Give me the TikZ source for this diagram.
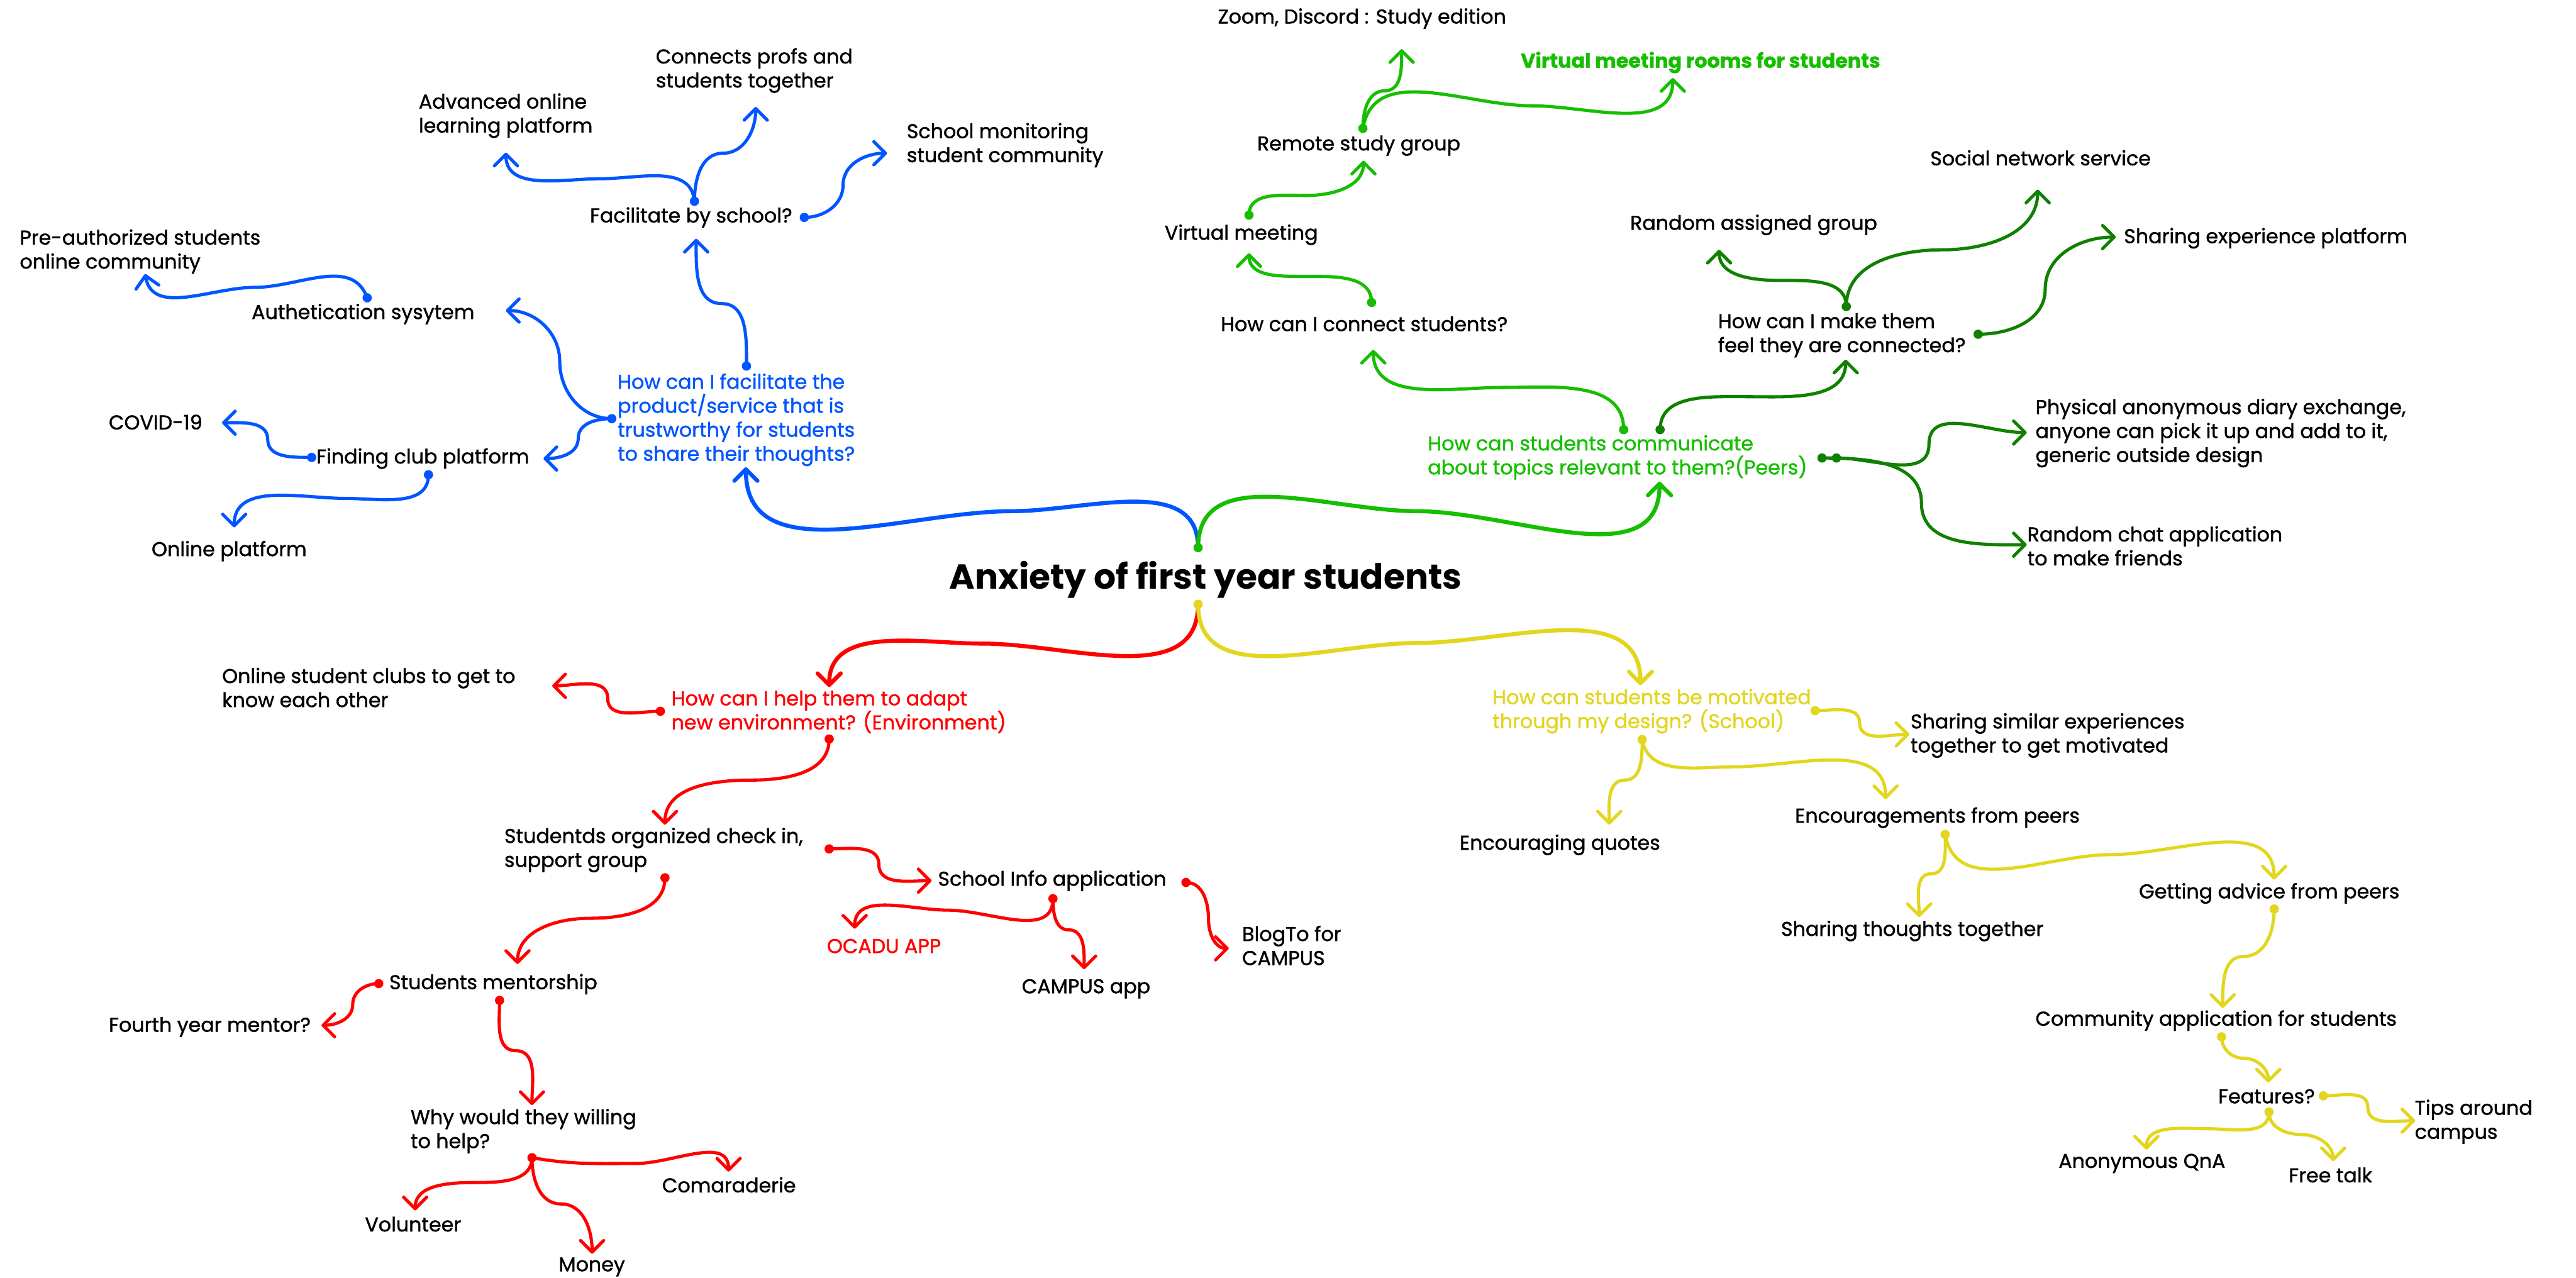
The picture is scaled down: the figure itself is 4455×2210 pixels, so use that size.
\documentclass[tikz,border=0pt]{standalone}
\usepackage{fontspec}
\setmainfont{Poppins}
\newfontfamily\medfam{Poppins}[FakeBold=1.2]
\usetikzlibrary{arrows.meta}

\definecolor{mblue}{RGB}{0,85,255}
\definecolor{mgreen}{RGB}{22,190,0}
\definecolor{dgreen}{RGB}{16,128,0}
\definecolor{mred}{RGB}{255,0,0}
\definecolor{myellow}{RGB}{226,214,30}

\newcommand\bodyfont{\medfam\fontsize{34.5}{41.5}\selectfont}
\newcommand\headfont{\fontsize{60}{64}\selectfont\bfseries}

\tikzset{
  lbl/.style={font=\bodyfont, inner sep=0pt, anchor=west, align=left, text=black},
  link/.style={line width=5.5pt, line cap=round, line join=round,
               -{Straight Barb[length=20pt,width=40pt,round]}},
  mainlink/.style={link, line width=7pt},
}

\begin{document}
\begin{tikzpicture}[x=1pt, y=-1pt]
\fill[white] (0,0) rectangle (4455,2210);
\useasboundingbox (0,0) rectangle (4455,2210);

% ---------- centre ----------
\node[lbl, font=\headfont] (root) at (1642,1003) {Anxiety of first year students};
\coordinate (rtop) at (2072,947);
\coordinate (rbot) at (2072,1045);

% ---------- blue branch ----------
\node[lbl, text=mblue] (qb) at (1068,726) {How can I facilitate the\\product/service that is\\trustworthy for students\\to share their thoughts?};
\node[lbl] (fac) at (1020,376) {Facilitate by school?};
\node[lbl] (adv) at (724,200) {Advanced online\\learning platform};
\node[lbl] (con) at (1134,122) {Connects profs and\\students together};
\node[lbl] (mon) at (1568,251) {School monitoring\\student community};
\node[lbl] (pre) at (34,435) {Pre-authorized students\\online community};
\node[lbl] (auth) at (435,543) {Authetication sysytem};
\node[lbl] (find) at (547,793) {Finding club platform};
\node[lbl] (covid) at (188,730) {COVID-19};
\node[lbl] (onl) at (262,953) {Online platform};

\coordinate (qbT) at (1291,633);  \coordinate (qbL) at (1058,724);
\coordinate (qbIn) at (1290,808);
\coordinate (facT) at (1201,348); \coordinate (facR) at (1391,376);
\coordinate (facIn) at (1204,413);
\coordinate (advIn) at (875,264);
\coordinate (conIn) at (1307,185);
\coordinate (monIn) at (1534,265);
\coordinate (authT) at (635,515); \coordinate (authIn) at (875,537);
\coordinate (preIn) at (251,474);
\coordinate (findL) at (539,791); \coordinate (findB) at (741,821);
\coordinate (findIn) at (940,793);
\coordinate (covIn) at (384,731);
\coordinate (onlIn) at (405,912);

\begin{scope}[mblue]
\draw[mainlink] (rtop) to[out=90,in=0] (1750,884) to[out=180,in=-90] (qbIn);
\draw[link] (qbT) to[out=90,in=0] (1248,525) to[out=180,in=-90] (facIn);
\draw[link] (qbL) to[out=180,in=-90] (968,625) to[out=90,in=0] (authIn);
\draw[link] (qbL) to[out=180,in=90] (1000,758) to[out=-90,in=0] (findIn);
\draw[link] (authT) to[out=110,in=0] (440,497) to[out=180,in=-80] (preIn);
\draw[link] (findL) to[out=180,in=-90] (463,760) to[out=90,in=0] (covIn);
\draw[link] (findB) to[out=-90,in=0] (600,862) to[out=180,in=90] (onlIn);
\draw[link] (facT) to[out=95,in=0] (1040,309) to[out=180,in=-90] (advIn);
\draw[link] (facT) to[out=90,in=180] (1250,265) to[out=0,in=-90] (conIn);
\draw[link] (facR) to[out=0,in=-90] (1458,320) to[out=90,in=180] (monIn);
\foreach \p in {qbT,qbL,facT,facR,authT,findL,findB} \fill (\p) circle (8pt);
\end{scope}

% ---------- green branch ----------
\node[lbl, text=mgreen] (qg) at (2469,791) {How can students communicate\\about topics relevant to them?(Peers)};
\node[lbl] (hc) at (2111,560) {How can I connect students?};
\node[lbl] (vm) at (2014,406) {Virtual meeting};
\node[lbl] (rem) at (2174,252) {Remote study group};
\node[lbl] (zoom) at (2106,32) {Zoom, Discord : Study edition};
\node[lbl, text=mgreen, font=\bodyfont\bfseries] (vr) at (2630,108) {Virtual meeting rooms for students};
\node[lbl] (hm) at (2971,580) {How can I make them\\feel they are connected?};
\node[lbl] (ra) at (2819,389) {Random assigned group};
\node[lbl] (soc) at (3338,273) {Social network service};
\node[lbl] (sep) at (3673,412) {Sharing experience platform};
\node[lbl] (phy) at (3520,749) {Physical anonymous diary exchange,\\anyone can pick it up and add to it,\\generic outside design};
\node[lbl] (rc) at (3506,944) {Random chat application\\to make friends};

\coordinate (qgIn) at (2870,833);
\coordinate (qgA) at (2808,743); \coordinate (qgB) at (2871,743);
\coordinate (qgR1) at (3151,792); \coordinate (qgR2) at (3176,792);
\coordinate (hcT) at (2372,523); \coordinate (hcIn) at (2375,605);
\coordinate (vmT) at (2160,372); \coordinate (vmIn) at (2160,438);
\coordinate (remT) at (2357,222); \coordinate (remIn) at (2358,278);
\coordinate (zoomIn) at (2424,85);
\coordinate (vrIn) at (2893,135);
\coordinate (hmT) at (3193,530); \coordinate (hmR) at (3421,578);
\coordinate (hmIn) at (3192,622);
\coordinate (raIn) at (2973,432);
\coordinate (socIn) at (3524,328);
\coordinate (sepIn) at (3659,410);
\coordinate (phyIn) at (3505,748);
\coordinate (rcIn) at (3505,942);

\begin{scope}[mgreen]
\draw[mainlink] (rtop) to[out=90,in=180] (2450,884) to[out=0,in=-90] (qgIn);
\draw[link] (qgA) to[out=90,in=0] (2600,670) to[out=180,in=-90] (hcIn);
\draw[link] (hcT) to[out=90,in=0] (2260,478) to[out=180,in=-90] (vmIn);
\draw[link] (vmT) to[out=90,in=180] (2260,338) to[out=0,in=-90] (remIn);
\draw[link] (remT) to[out=90,in=180] (2395,157) to[out=0,in=-90] (zoomIn);
\draw[link] (remT) to[out=80,in=180] (2650,183) to[out=0,in=-90] (vrIn);
\foreach \p in {rtop,qgA,hcT,vmT,remT} \fill (\p) circle (8pt);
\end{scope}

\begin{scope}[dgreen]
\draw[link] (qgB) to[out=90,in=180] (3020,686) to[out=0,in=-90] (hmIn);
\draw[link] (qgR2) to[out=0,in=-90] (3336,768) to[out=90,in=180] (phyIn);
\draw[link] (qgR1) to[out=0,in=90] (3323,870) to[out=-90,in=180] (rcIn);
\draw[link] (hmT) to[out=90,in=0] (3080,485) to[out=180,in=-90] (raIn);
\draw[link] (hmT) to[out=90,in=180] (3360,432) to[out=0,in=-90] (socIn);
\draw[link] (hmR) to[out=0,in=-90] (3537,500) to[out=90,in=180] (sepIn);
\foreach \p in {qgB,qgR1,qgR2,hmT,hmR} \fill (\p) circle (8pt);
\end{scope}

% ---------- red branch ----------
\node[lbl, text=mred] (qr) at (1161,1231) {How can I help them to adapt\\new environment? (Environment)};
\node[lbl] (clubs) at (384,1189) {Online student clubs to get to\\know each other};
\node[lbl] (sup) at (872,1470) {Studentds organized check in,\\support group};
\node[lbl] (info) at (1622,1523) {School Info application};
\node[lbl, text=mred] (ocadu) at (1430,1636) {OCADU APP};
\node[lbl] (camp) at (1767,1710) {CAMPUS app};
\node[lbl] (blog) at (2148,1635) {BlogTo for\\CAMPUS};
\node[lbl] (ment) at (673,1702) {Students mentorship};
\node[lbl] (fourth) at (188,1776) {Fourth year mentor?};
\node[lbl] (why) at (710,1956) {Why would they willing\\to help?};
\node[lbl] (cam) at (1145,2049) {Comaraderie};
\node[lbl] (vol) at (631,2117) {Volunteer};
\node[lbl] (mon2) at (966,2191) {Money};

\coordinate (qrIn) at (1434,1188);
\coordinate (qrL) at (1142,1230); \coordinate (qrB) at (1434,1278);
\coordinate (clubsIn) at (955,1186);
\coordinate (supR) at (1434,1468); \coordinate (supB) at (1150,1518);
\coordinate (supIn) at (1150,1426);
\coordinate (infoB) at (1821,1554); \coordinate (infoR) at (2051,1526);
\coordinate (infoIn) at (1611,1523);
\coordinate (ocIn) at (1478,1606);
\coordinate (campIn) at (1875,1676);
\coordinate (blogIn) at (2125,1640);
\coordinate (mentL) at (655,1701); \coordinate (mentB) at (864,1730);
\coordinate (mentIn) at (895,1667);
\coordinate (fourIn) at (556,1773);
\coordinate (whyB) at (920,2002); \coordinate (whyIn) at (920,1911);
\coordinate (camIn) at (1260,2026);
\coordinate (volIn) at (718,2093);
\coordinate (monIn2) at (1024,2168);

\begin{scope}[mred]
\draw[mainlink] (rbot) to[out=-90,in=0] (1700,1113) to[out=180,in=90] (qrIn);
\draw[link] (qrL) to[out=180,in=-90] (1051,1208) to[out=90,in=0] (clubsIn);
\draw[link] (qrB) to[out=-90,in=0] (1300,1349) to[out=180,in=90] (supIn);
\draw[link] (supR) to[out=0,in=90] (1520,1495) to[out=-90,in=180] (infoIn);
\draw[link] (supB) to[out=-90,in=0] (1020,1588) to[out=180,in=90] (mentIn);
\draw[link] (infoB) to[out=-90,in=0] (1640,1574) to[out=180,in=90] (ocIn);
\draw[link] (infoB) to[out=-90,in=180] (1848,1608) to[out=0,in=90] (campIn);
\draw[link] (infoR) to[out=0,in=90] (2090,1590) to[out=-90,in=180] (blogIn);
\draw[link] (mentL) to[out=180,in=90] (610,1737) to[out=-90,in=0] (fourIn);
\draw[link] (mentB) to[out=-90,in=180] (892,1817) to[out=0,in=90] (whyIn);
\draw[link] (whyB) to[out=-10,in=180] (1100,2012) to[out=0,in=90] (camIn);
\draw[link] (whyB) to[out=-90,in=0] (820,2045) to[out=180,in=90] (volIn);
\draw[link] (whyB) to[out=-90,in=180] (970,2082) to[out=0,in=90] (monIn2);
\foreach \p in {qrL,qrB,supR,supB,infoB,infoR,mentL,mentB,whyB} \fill (\p) circle (8pt);
\end{scope}

% ---------- yellow branch ----------
\node[lbl, text=myellow] (qy) at (2581,1230) {How can students be motivated\\through my design? (School)};
\node[lbl] (ssim) at (3304,1272) {Sharing similar experiences\\together to get motivated};
\node[lbl] (quot) at (2524,1461) {Encouraging quotes};
\node[lbl] (enc) at (3104,1414) {Encouragements from peers};
\node[lbl] (sth) at (3080,1610) {Sharing thoughts together};
\node[lbl] (adv2) at (3699,1545) {Getting advice from peers};
\node[lbl] (comm) at (3520,1765) {Community application for students};
\node[lbl] (feat) at (3836,1896) {Features?};
\node[lbl] (tips) at (4176,1940) {Tips around\\campus};
\node[lbl] (qna) at (3560,2012) {Anonymous QnA};
\node[lbl] (free) at (3958,2032) {Free talk};

\coordinate (qyIn) at (2837,1185);
\coordinate (qyR) at (3139,1229); \coordinate (qyB) at (2840,1279);
\coordinate (ssimIn) at (3302,1270);
\coordinate (quotIn) at (2783,1426);
\coordinate (encIn) at (3261,1382); \coordinate (encB) at (3364,1443);
\coordinate (sthIn) at (3319,1586);
\coordinate (advIn2) at (3933,1521); \coordinate (advB) at (3933,1572);
\coordinate (commIn) at (3844,1743); \coordinate (commB) at (3842,1793);
\coordinate (featIn) at (3923,1872);
\coordinate (featR) at (4018,1895); \coordinate (featB) at (3924,1923);
\coordinate (tipsIn) at (4177,1938);
\coordinate (qnaIn) at (3712,1988);
\coordinate (freeIn) at (4035,2008);

\begin{scope}[myellow]
\draw[mainlink] (rbot) to[out=-90,in=180] (2450,1112) to[out=0,in=90] (qyIn);
\draw[link] (qyR) to[out=0,in=90] (3216,1250) to[out=-90,in=180] (ssimIn);
\draw[link] (qyB) to[out=-90,in=0] (2810,1349) to[out=180,in=90] (quotIn);
\draw[link] (qyB) to[out=-80,in=180] (3000,1326) to[out=0,in=90] (encIn);
\draw[link] (encB) to[out=-90,in=0] (3340,1511) to[out=180,in=90] (sthIn);
\draw[link] (encB) to[out=-80,in=180] (3650,1478) to[out=0,in=90] (advIn2);
\draw[link] (advB) to[out=-90,in=0] (3880,1654) to[out=180,in=90] (commIn);
\draw[link] (commB) to[out=-90,in=180] (3880,1830) to[out=0,in=90] (featIn);
\draw[link] (featR) to[out=0,in=90] (4095,1915) to[out=-90,in=180] (tipsIn);
\draw[link] (featB) to[out=-90,in=0] (3820,1952) to[out=180,in=90] (qnaIn);
\draw[link] (featB) to[out=-90,in=180] (3980,1962) to[out=0,in=90] (freeIn);
\foreach \p in {rbot,qyR,qyB,encB,advB,commB,featR,featB} \fill (\p) circle (8pt);
\end{scope}

\end{tikzpicture}
\end{document}
